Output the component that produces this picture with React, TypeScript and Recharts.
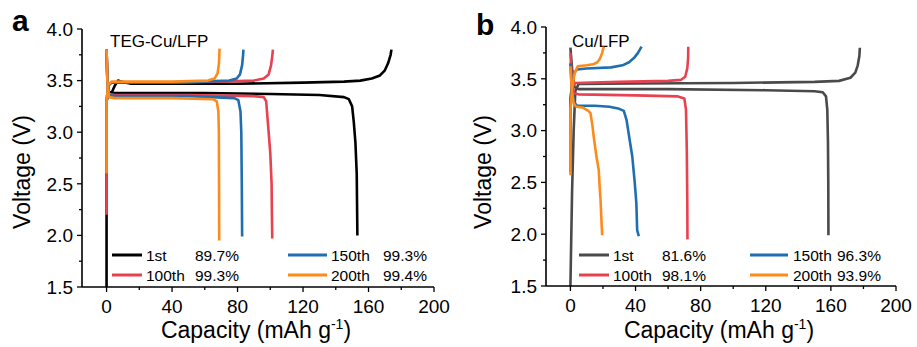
import React from 'react';
import { LineChart, Line, XAxis, YAxis, Customized } from 'recharts';

// [capacity (mAh/g), voltage (V)]
const A_1ST_CHARGE = [[0, 1.5], [0, 3.3], [1, 3.36], [3, 3.38], [5, 3.45], [7, 3.5], [9, 3.49], [15, 3.47], [40, 3.47], [80, 3.47], [120, 3.48], [145, 3.49], [155, 3.5], [162, 3.52], [167, 3.55], [170, 3.6], [172, 3.67], [173.5, 3.75], [174, 3.8]];
const A_1ST_DISCHARGE = [[0, 3.8], [0.5, 3.5], [1.5, 3.39], [5, 3.38], [60, 3.38], [100, 3.37], [130, 3.36], [145, 3.34], [148, 3.32], [150, 3.25], [151, 3.1], [152, 2.9], [152.8, 2.6], [153, 2.3], [153.2, 2.0]];
const A_100TH_CHARGE = [[0, 2.2], [0, 3.3], [1, 3.45], [3, 3.48], [30, 3.48], [70, 3.49], [90, 3.5], [96, 3.52], [99, 3.56], [100.5, 3.65], [101.3, 3.75], [101.6, 3.8]];
const A_100TH_DISCHARGE = [[0, 3.8], [0.5, 3.5], [1.5, 3.37], [5, 3.36], [50, 3.36], [90, 3.35], [96, 3.34], [97.5, 3.3], [98, 3.2], [99, 3.0], [100, 2.8], [100.8, 2.5], [101, 2.2], [101.2, 1.97]];
const A_150TH_CHARGE = [[0, 2.6], [0, 3.3], [1, 3.45], [3, 3.48], [40, 3.48], [75, 3.5], [79.5, 3.52], [81.5, 3.56], [82.8, 3.65], [83.4, 3.75], [83.6, 3.8]];
const A_150TH_DISCHARGE = [[0, 3.8], [0.5, 3.5], [1.5, 3.36], [5, 3.35], [50, 3.35], [78, 3.33], [80.5, 3.31], [81.8, 3.2], [82.3, 3.0], [82.6, 2.5], [82.8, 1.99]];
const A_200TH_CHARGE = [[0, 2.6], [0, 3.3], [1, 3.46], [3, 3.49], [40, 3.49], [62, 3.5], [66, 3.52], [67.8, 3.57], [68.6, 3.66], [68.9, 3.75], [69, 3.81]];
const A_200TH_DISCHARGE = [[0, 3.8], [0.5, 3.5], [1.5, 3.34], [5, 3.33], [40, 3.33], [65, 3.32], [67.3, 3.3], [68.3, 3.2], [68.6, 3.0], [68.7, 2.5], [68.8, 1.95]];

const B_1ST_CHARGE = [[0, 1.5], [1, 2.4], [2, 3.0], [3, 3.38], [5, 3.45], [40, 3.455], [100, 3.46], [150, 3.47], [165, 3.48], [172, 3.51], [175, 3.56], [176.5, 3.63], [177.5, 3.72], [177.8, 3.8]];
const B_1ST_DISCHARGE = [[0, 3.8], [1, 3.6], [2.5, 3.42], [5, 3.4], [60, 3.4], [120, 3.39], [150, 3.38], [155, 3.37], [157, 3.33], [157.8, 3.2], [158.2, 2.9], [158.4, 2.5], [158.5, 1.99]];
const B_100TH_CHARGE = [[0, 2.6], [0, 3.3], [1, 3.42], [3, 3.46], [30, 3.47], [60, 3.48], [68, 3.49], [70.5, 3.52], [71.8, 3.6], [72.3, 3.7], [72.4, 3.81]];
const B_100TH_DISCHARGE = [[0, 3.75], [0.7, 3.5], [2, 3.36], [5, 3.35], [40, 3.34], [66, 3.33], [70, 3.31], [71, 3.2], [71.5, 2.8], [71.8, 2.3], [71.9, 1.95]];
const B_150TH_CHARGE = [[0, 2.6], [0, 3.3], [1, 3.45], [2.5, 3.56], [4, 3.59], [10, 3.6], [25, 3.61], [32, 3.63], [36, 3.66], [39, 3.7], [41.5, 3.75], [43.7, 3.81]];
const B_150TH_DISCHARGE = [[0, 3.65], [0.7, 3.45], [2, 3.28], [4, 3.24], [15, 3.24], [24, 3.23], [30, 3.21], [32.8, 3.19], [34.5, 3.1], [35.5, 3.0], [38, 2.75], [39.5, 2.5], [40.5, 2.3], [41, 2.04], [42, 1.98]];
const B_200TH_CHARGE = [[0, 2.57], [0, 3.2], [1, 3.4], [2.5, 3.55], [4.5, 3.62], [10, 3.63], [14, 3.64], [16.5, 3.66], [18, 3.69], [19.5, 3.75], [20.5, 3.81]];
const B_200TH_DISCHARGE = [[0, 3.62], [0.8, 3.4], [2, 3.26], [3.5, 3.23], [8, 3.22], [11, 3.19], [12.3, 3.17], [13.5, 3.05], [14.4, 2.93], [16, 2.75], [17.4, 2.62], [18, 2.45], [18.5, 2.33], [19, 2.15], [19.5, 1.99]];

const CYCLES = ['1st', '100th', '150th', '200th'];
const A_CE = ['89.7%', '99.3%', '99.3%', '99.4%'];
const B_CE = ['81.6%', '98.1%', '96.3%', '93.9%'];

const X_TICKS = [0, 20, 40, 60, 80, 100, 120, 140, 160, 180, 200];
const Y_TICKS = [1.5, 1.75, 2, 2.25, 2.5, 2.75, 3, 3.25, 3.5, 3.75, 4];

const A_COLORS = ['#000000', '#e8414f', '#1f6fb0', '#ff8a1c'];
const B_COLORS = ['#4a4a4a', '#e8414f', '#1f6fb0', '#ff8a1c'];

const FONT = 'Arial, "Liberation Sans", sans-serif';

const toPts = (arr: number[][]) => arr.map(([x, y]) => ({ x, y }));

const XTick = (props: any) => {
  const { x, y, payload } = props;
  const major = payload.value % 40 === 0;
  return (
    <g>
      <line x1={x} x2={x} y1={y} y2={y + (major ? 5 : 3)} stroke="#000" strokeWidth={1.3} />
      {major && (
        <text x={x} y={y + 26} textAnchor="middle" fontSize={19} fontFamily={FONT} fill="#000">
          {payload.value}
        </text>
      )}
    </g>
  );
};

const YTick = (props: any) => {
  const { x, y, payload } = props;
  const major = Math.abs((payload.value * 2) % 1) < 1e-6;
  return (
    <g>
      <line x1={x} x2={x - (major ? 5 : 3)} y1={y} y2={y} stroke="#000" strokeWidth={1.3} />
      {major && (
        <text x={x - 9} y={y} dy="0.36em" textAnchor="end" fontSize={19} fontFamily={FONT} fill="#000">
          {payload.value.toFixed(1)}
        </text>
      )}
    </g>
  );
};

interface PanelProps {
  width: number;
  letter: string;
  sample: string;
  sampleX: number;
  plotLeft: number;
  plotRight: number;
  plotTop: number;
  plotBottom: number;
  series: number[][][][];
  colors: string[];
  ce: string[];
  legendCols: number[][];
  yTitleX: number;
}

const Panel: React.FC<PanelProps> = ({
  width, letter, sample, sampleX, plotLeft, plotRight, plotTop, plotBottom,
  series, colors, ce, legendCols, yTitleX
}) => {
  const height = 347;
  const xAxisH = 30;
  const rows = [255, 275];

  const overlay = () => (
    <g fontFamily={FONT} fill="#000">
      <text x={letter === 'a' ? 12 : 16} y={letter === 'a' ? 31 : 35} fontSize={30} fontWeight="bold">{letter}</text>
      <text x={sampleX} y={47} fontSize={17}>{sample}</text>
      {CYCLES.map((c, i) => {
        const col = legendCols[i < 2 ? 0 : 1];
        const ry = rows[i % 2 === 0 ? 0 : 1];
        const row = i === 0 || i === 2 ? rows[0] : rows[1];
        return (
          <g key={c}>
            <line x1={col[0]} x2={col[1]} y1={row} y2={row} stroke={colors[i]} strokeWidth={3} />
            <text x={col[2]} y={row + 5.5} fontSize={15.5}>{c}</text>
            <text x={col[3]} y={row + 5.5} fontSize={15.5}>{ce[i]}</text>
          </g>
        );
      })}
      <text
        x={yTitleX}
        y={172}
        fontSize={23}
        textAnchor="middle"
        transform={`rotate(-90 ${yTitleX} 172)`}
        dy="0.35em"
      >
        Voltage (V)
      </text>
      <text x={(plotLeft + plotRight) / 2 - 2} y={338} fontSize={23} textAnchor="middle">
        Capacity (mAh g<tspan dy={-9} fontSize={14}>-1</tspan><tspan dy={9}>)</tspan>
      </text>
    </g>
  );

  return (
    <LineChart
      width={width}
      height={height}
      margin={{ top: plotTop, right: width - plotRight, bottom: height - plotBottom - xAxisH, left: 0 }}
    >
      <XAxis
        dataKey="x"
        type="number"
        domain={[-15, 200]}
        ticks={X_TICKS}
        allowDataOverflow
        height={xAxisH}
        tickSize={0}
        tickMargin={0}
        tickLine={false}
        tick={(p: any) => <XTick {...p} />}
        axisLine={{ stroke: '#000', strokeWidth: 1.6 }}
        interval={0}
      />
      <YAxis
        type="number"
        domain={[1.5, 4]}
        ticks={Y_TICKS}
        allowDataOverflow
        width={plotLeft}
        tickSize={0}
        tickMargin={0}
        tickLine={false}
        tick={(p: any) => <YTick {...p} />}
        axisLine={{ stroke: '#000', strokeWidth: 1.6 }}
        interval={0}
      />
      <XAxis
        xAxisId="top"
        orientation="top"
        type="number"
        domain={[-15, 200]}
        height={0}
        tick={false}
        tickLine={false}
        axisLine={{ stroke: '#000', strokeWidth: 1.6 }}
      />
      <YAxis
        yAxisId="right"
        orientation="right"
        type="number"
        domain={[1.5, 4]}
        width={0}
        tick={false}
        tickLine={false}
        axisLine={{ stroke: '#000', strokeWidth: 1.6 }}
      />
      {series.map((pair, i) =>
        pair.map((curve, j) => (
          <Line
            key={`${i}-${j}`}
            data={toPts(curve)}
            dataKey="y"
            type="linear"
            stroke={colors[i]}
            strokeWidth={2.6}
            dot={false}
            activeDot={false}
            isAnimationActive={false}
            strokeLinejoin="round"
          />
        ))
      )}
      <Customized component={overlay} />
    </LineChart>
  );
};

const App: React.FC = () => {
  const seriesA = [
    [A_1ST_CHARGE, A_1ST_DISCHARGE],
    [A_100TH_CHARGE, A_100TH_DISCHARGE],
    [A_150TH_CHARGE, A_150TH_DISCHARGE],
    [A_200TH_CHARGE, A_200TH_DISCHARGE],
  ];
  const seriesB = [
    [B_1ST_CHARGE, B_1ST_DISCHARGE],
    [B_100TH_CHARGE, B_100TH_DISCHARGE],
    [B_150TH_CHARGE, B_150TH_DISCHARGE],
    [B_200TH_CHARGE, B_200TH_DISCHARGE],
  ];
  return (
    <div style={{ position: 'absolute', left: 0, top: 0, width: 917, height: 347, background: '#fff', display: 'flex' }}>
      <Panel
        width={460}
        letter="a"
        sample="TEG-Cu/LFP"
        sampleX={110}
        plotLeft={82}
        plotRight={434}
        plotTop={29}
        plotBottom={287}
        series={seriesA}
        colors={A_COLORS}
        ce={A_CE}
        legendCols={[[112, 142, 146, 195], [288, 327, 331, 383]]}
        yTitleX={22}
      />
      <Panel
        width={457}
        letter="b"
        sample="Cu/LFP"
        sampleX={112}
        plotLeft={86}
        plotRight={436}
        plotTop={27}
        plotBottom={286}
        series={seriesB}
        colors={B_COLORS}
        ce={B_CE}
        legendCols={[[119, 149, 153, 202], [290, 328, 333, 377]]}
        yTitleX={23}
      />
    </div>
  );
};

export default App;
